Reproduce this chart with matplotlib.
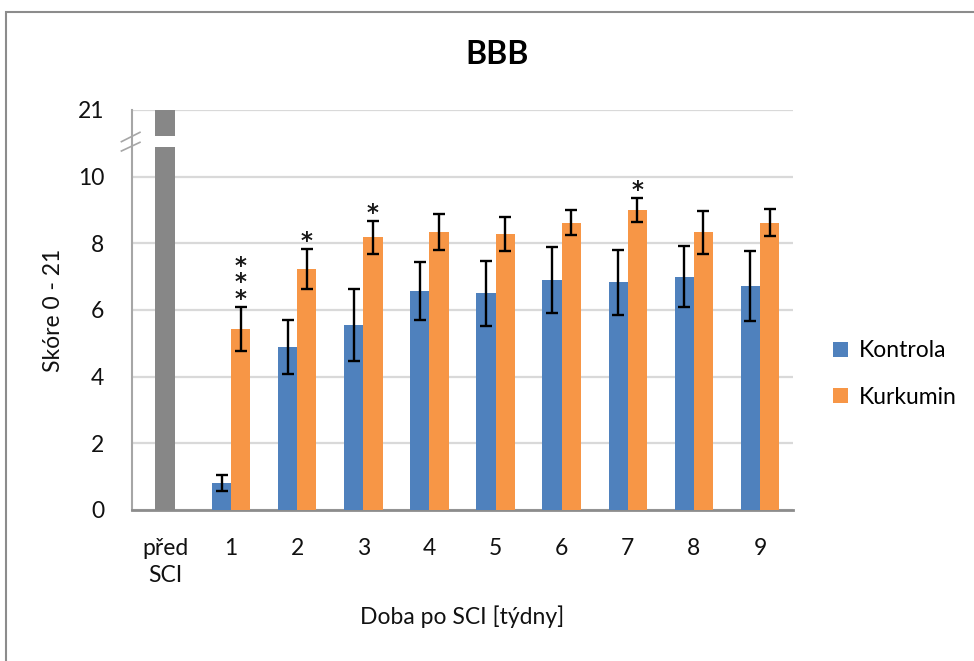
import numpy as np
import matplotlib.pyplot as plt
from matplotlib.patches import Rectangle
import matplotlib.transforms as mtransforms

plt.rcParams['font.family'] = ['Lato', 'DejaVu Sans']

# data
categories = ['před\nSCI', '1', '2', '3', '4', '5', '6', '7', '8', '9']
pre_sci = 21
kontrola = [0.80, 4.90, 5.56, 6.57, 6.50, 6.90, 6.83, 7.00, 6.73]
kontrola_err = [0.24, 0.81, 1.08, 0.86, 0.98, 1.00, 0.97, 0.92, 1.05]
kurkumin = [5.44, 7.23, 8.18, 8.33, 8.28, 8.62, 9.00, 8.33, 8.62]
kurkumin_err = [0.66, 0.60, 0.50, 0.54, 0.50, 0.38, 0.36, 0.64, 0.40]
stars = ['***', '*', '*', '', '', '', '*', '', '']
ytick_vals = [0, 2, 4, 6, 8, 10, 21]

blue = '#4F81BD'
orange = '#F79646'
gray = '#878787'
w = 0.29

def brk(v):
    # broken axis: 0-10 linear, 21 placed at 12
    return v if v <= 10 else 10 + 2 * (v - 10) / 11

fig = plt.figure(figsize=(9.74, 6.61), dpi=100)
ax = fig.add_axes([132/974, 151/661, 661/974, 400/661])

x = np.arange(1, 10)
# gray pre-SCI bar with break gap
top = brk(pre_sci)
ax.bar(0, 10.88, width=w, color=gray, zorder=3)
ax.bar(0, top - 11.23, bottom=11.23, width=w, color=gray, zorder=3)

ax.bar(x - w/2, kontrola, width=w, color=blue, label='Kontrola', zorder=3)
ax.bar(x + w/2, kurkumin, width=w, color=orange, label='Kurkumin', zorder=3)
ekw = dict(fmt='none', ecolor='black', elinewidth=1.7, capsize=4, capthick=1.7, zorder=4)
ax.errorbar(x - w/2, kontrola, yerr=kontrola_err, **ekw)
ax.errorbar(x + w/2, kurkumin, yerr=kurkumin_err, **ekw)

for xi, y, e, s in zip(x, kurkumin, kurkumin_err, stars):
    if s:
        ax.annotate('\n'.join(s), (xi + w/2, y + e), xytext=(0, -3),
                    textcoords='offset points', ha='center', va='bottom',
                    fontsize=16.5, family='DejaVu Sans', fontweight='bold',
                    linespacing=0.64, color='#1a1a1a')

ax.set_xlim(-0.5, 9.5)
ax.set_ylim(0, 12)
ax.set_yticks([brk(v) for v in ytick_vals])
ax.set_yticklabels([str(v) for v in ytick_vals])
ax.set_xticks(range(10))
ax.set_xticklabels(categories, linespacing=1.35)
ax.tick_params(axis='y', length=0, pad=20, labelsize=16.5, labelcolor='#111111')
ax.tick_params(axis='x', length=0, pad=20, labelsize=16.5, labelcolor='#111111')

ax.grid(axis='y', color='#D9D9D9', linewidth=1.6, zorder=0)
ax.set_axisbelow(True)
for s in ['top', 'right']:
    ax.spines[s].set_visible(False)
ax.spines['left'].set_color('#A6A6A6')
ax.spines['left'].set_linewidth(1.5)
ax.spines['bottom'].set_color('#8C8C8C')
ax.spines['bottom'].set_linewidth(2)

# break marks on the y axis
tr = mtransforms.blended_transform_factory(ax.transAxes, ax.transData)
for y0, y1 in [(11.05, 11.33), (10.77, 11.03)]:
    ax.plot([-0.016, 0.012], [y0, y1], color='#A6A6A6', lw=1.2,
            transform=tr, clip_on=False)

ax.set_xlabel('Doba po SCI [týdny]', fontsize=16.5, labelpad=14, color='#111111')
ax.set_ylabel('Skóre 0 - 21', fontsize=16.5, labelpad=10, color='#111111')
fig.text(497/974, 1 - 55/661, 'BBB', ha='center', va='center',
         fontsize=23, fontweight='bold')

leg = ax.legend(loc='center left', bbox_to_anchor=(1.03, 0.34), frameon=False,
                fontsize=16.5, handlelength=0.65, handleheight=0.65,
                handletextpad=0.45, labelspacing=1.1)

fig.patches.append(Rectangle((6/974, -0.1), 1.2, 1.1 - 12/661,
                             transform=fig.transFigure, fill=False,
                             edgecolor='#8C8C8C', linewidth=1.5))

fig.savefig('out.png', dpi=100)
